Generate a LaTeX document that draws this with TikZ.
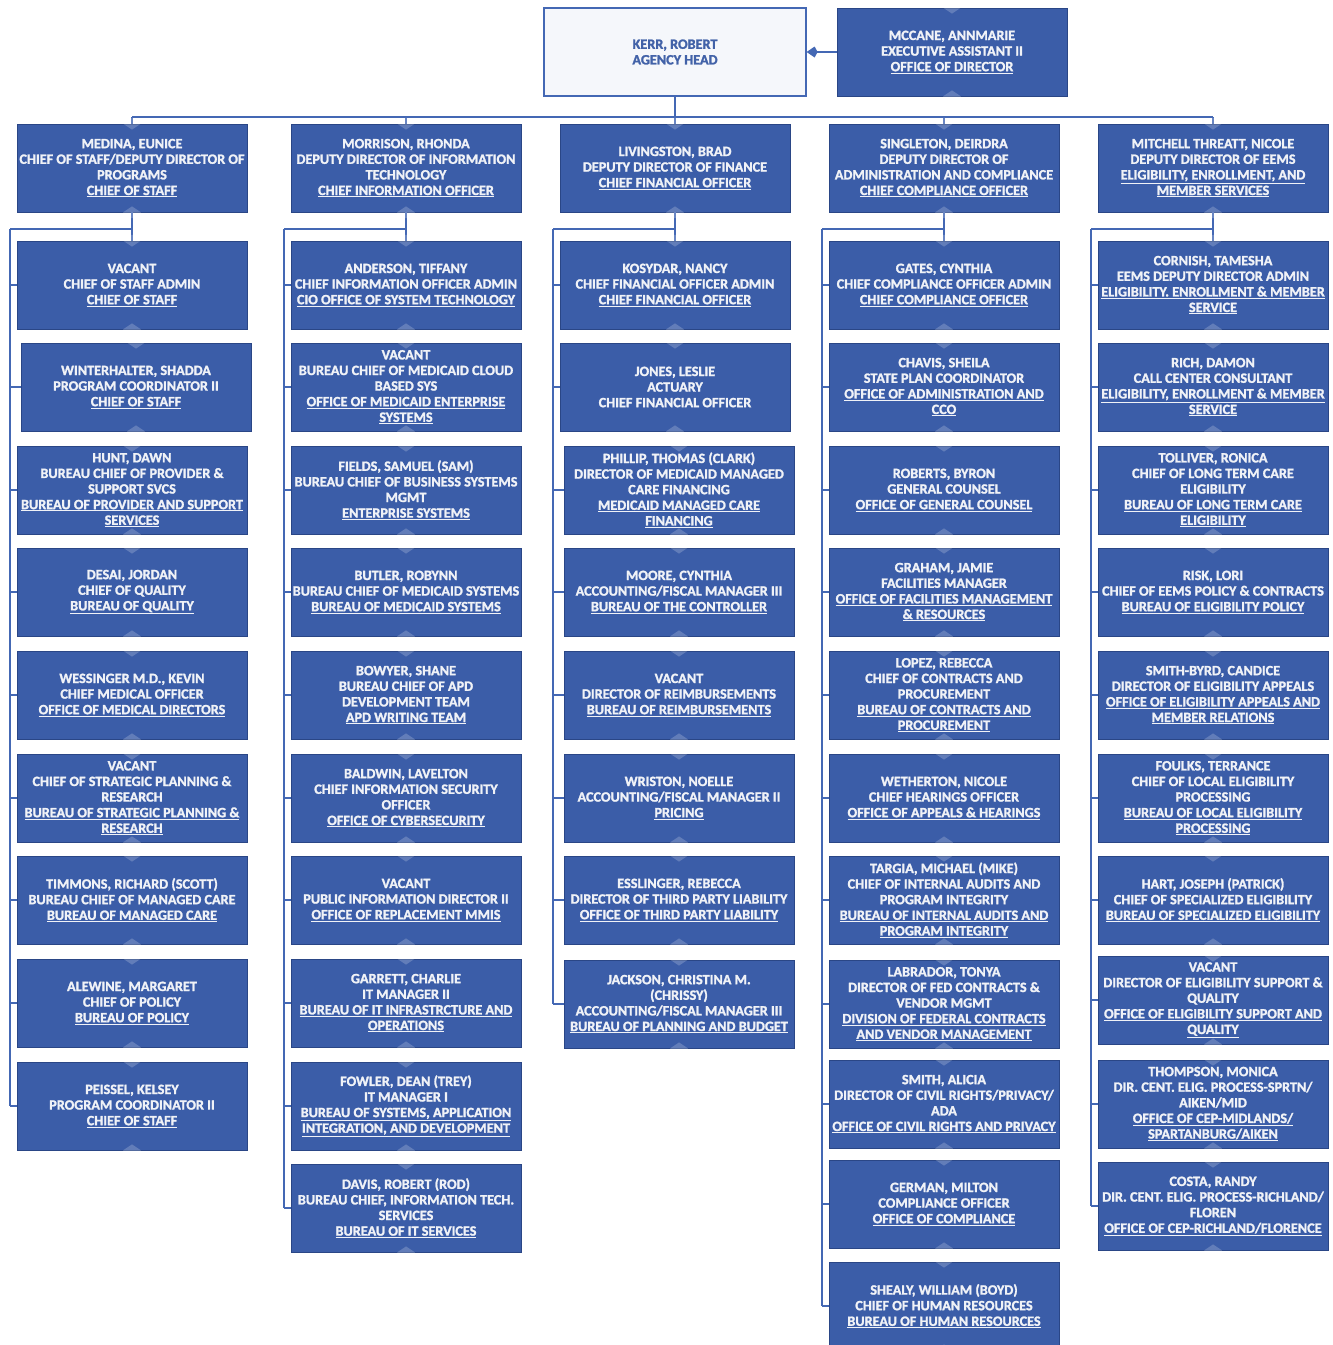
\documentclass[tikz,border=0pt]{standalone}
\usepackage{fontspec}
\setmainfont{Carlito}[BoldFont={Carlito Bold}]
\newfontfamily\orgface{Carlito Bold}[FakeBold=1.6]
\usepackage{tikz}
\usetikzlibrary{arrows.meta, positioning}

\definecolor{orgblue}{RGB}{59,93,168}
\definecolor{orgedge}{RGB}{42,70,134}
\definecolor{linkblue}{RGB}{68,104,180}
\definecolor{agencyfill}{RGB}{245,247,251}
\definecolor{agencytext}{RGB}{66,98,168}
\definecolor{boxtext}{RGB}{240,242,247}

\newcommand{\orgfont}{\orgface\fontsize{14.2}{15.6}\selectfont}
\newcommand{\ulin}[1]{\underline{#1}}
\newcommand{\notchat}[1]{\fill[notch] (#1) ++(-9,0) -- ++(9,-6) -- ++(9,6) -- ++(-9,6) -- cycle;}

\begin{document}
\begin{tikzpicture}[
        x=1pt, y=-1pt,
        staffbox/.style={rectangle, draw=orgedge, line width=0.8pt, fill=orgblue, text=boxtext,
                         minimum width=230pt, minimum height=88pt, align=center, inner sep=1pt},
        agencybox/.style={rectangle, draw=linkblue, line width=1.2pt, fill=agencyfill, text=agencytext,
                         minimum width=262pt, minimum height=88pt, align=center},
        link/.style={draw=linkblue, line width=2.6pt},
        notch/.style={fill=white, fill opacity=0.2}]
    \tikzstyle{every node}=[font=\orgfont]
    \useasboundingbox (0,0) rectangle (1333,1345);
    \clip (0,0) rectangle (1333,1345);

    % top
    \node[agencybox] (kerr) at (675,52) {KERR, ROBERT\\AGENCY HEAD};
    \node[staffbox] (mccane) at (952,52) {MCCANE, ANNMARIE\\EXECUTIVE ASSISTANT II\\\ulin{OFFICE OF DIRECTOR}};

    % deputies
    \node[staffbox] (medina) at (132,168) {MEDINA, EUNICE\\CHIEF OF STAFF/DEPUTY DIRECTOR OF\\PROGRAMS\\\ulin{CHIEF OF STAFF}};
    \node[staffbox] (morrison) at (406,168) {MORRISON, RHONDA\\DEPUTY DIRECTOR OF INFORMATION\\TECHNOLOGY\\\ulin{CHIEF INFORMATION OFFICER}};
    \node[staffbox] (livingston) at (675,168) {LIVINGSTON, BRAD\\DEPUTY DIRECTOR OF FINANCE\\\ulin{CHIEF FINANCIAL OFFICER}};
    \node[staffbox] (singleton) at (944,168) {SINGLETON, DEIRDRA\\DEPUTY DIRECTOR OF\\ADMINISTRATION AND COMPLIANCE\\\ulin{CHIEF COMPLIANCE OFFICER}};
    \node[staffbox] (mitchell) at (1213,168) {MITCHELL THREATT, NICOLE\\DEPUTY DIRECTOR OF EEMS\\\ulin{ELIGIBILITY, ENROLLMENT, AND}\\\ulin{MEMBER SERVICES}};

    % chief of staff
    \node[staffbox] (vacantcos) at (132,285) {VACANT\\CHIEF OF STAFF ADMIN\\\ulin{CHIEF OF STAFF}};
    \node[staffbox] (winterhalter) at (136,387) {WINTERHALTER, SHADDA\\PROGRAM COORDINATOR II\\\ulin{CHIEF OF STAFF}};
    \node[staffbox] (hunt) at (132,490) {HUNT, DAWN\\BUREAU CHIEF OF PROVIDER \&\\SUPPORT SVCS\\\ulin{BUREAU OF PROVIDER AND SUPPORT}\\\ulin{SERVICES}};
    \node[staffbox] (desai) at (132,592) {DESAI, JORDAN\\CHIEF OF QUALITY\\\ulin{BUREAU OF QUALITY}};
    \node[staffbox] (wessinger) at (132,695) {WESSINGER M.D., KEVIN\\CHIEF MEDICAL OFFICER\\\ulin{OFFICE OF MEDICAL DIRECTORS}};
    \node[staffbox] (vacantspr) at (132,798) {VACANT\\CHIEF OF STRATEGIC PLANNING \&\\RESEARCH\\\ulin{BUREAU OF STRATEGIC PLANNING \&}\\\ulin{RESEARCH}};
    \node[staffbox] (timmons) at (132,900) {TIMMONS, RICHARD (SCOTT)\\BUREAU CHIEF OF MANAGED CARE\\\ulin{BUREAU OF MANAGED CARE}};
    \node[staffbox] (alewine) at (132,1003) {ALEWINE, MARGARET\\CHIEF OF POLICY\\\ulin{BUREAU OF POLICY}};
    \node[staffbox] (peissel) at (132,1106) {PEISSEL, KELSEY\\PROGRAM COORDINATOR II\\\ulin{CHIEF OF STAFF}};

    % information technology
    \node[staffbox] (anderson) at (406,285) {ANDERSON, TIFFANY\\CHIEF INFORMATION OFFICER ADMIN\\\ulin{CIO OFFICE OF SYSTEM TECHNOLOGY}};
    \node[staffbox] (vacantmes) at (406,387) {VACANT\\BUREAU CHIEF OF MEDICAID CLOUD\\BASED SYS\\\ulin{OFFICE OF MEDICAID ENTERPRISE}\\\ulin{SYSTEMS}};
    \node[staffbox] (fields) at (406,490) {FIELDS, SAMUEL (SAM)\\BUREAU CHIEF OF BUSINESS SYSTEMS\\MGMT\\\ulin{ENTERPRISE SYSTEMS}};
    \node[staffbox] (butler) at (406,592) {BUTLER, ROBYNN\\BUREAU CHIEF OF MEDICAID SYSTEMS\\\ulin{BUREAU OF MEDICAID SYSTEMS}};
    \node[staffbox] (bowyer) at (406,695) {BOWYER, SHANE\\BUREAU CHIEF OF APD\\DEVELOPMENT TEAM\\\ulin{APD WRITING TEAM}};
    \node[staffbox] (baldwin) at (406,798) {BALDWIN, LAVELTON\\CHIEF INFORMATION SECURITY\\OFFICER\\\ulin{OFFICE OF CYBERSECURITY}};
    \node[staffbox] (vacantmmis) at (406,900) {VACANT\\PUBLIC INFORMATION DIRECTOR II\\\ulin{OFFICE OF REPLACEMENT MMIS}};
    \node[staffbox] (garrett) at (406,1003) {GARRETT, CHARLIE\\IT MANAGER II\\\ulin{BUREAU OF IT INFRASTRCTURE AND}\\\ulin{OPERATIONS}};
    \node[staffbox] (fowler) at (406,1106) {FOWLER, DEAN (TREY)\\IT MANAGER I\\\ulin{BUREAU OF SYSTEMS, APPLICATION}\\\ulin{INTEGRATION, AND DEVELOPMENT}};
    \node[staffbox] (davis) at (406,1208) {DAVIS, ROBERT (ROD)\\BUREAU CHIEF, INFORMATION TECH.\\SERVICES\\\ulin{BUREAU OF IT SERVICES}};

    % finance
    \node[staffbox] (kosydar) at (675,285) {KOSYDAR, NANCY\\CHIEF FINANCIAL OFFICER ADMIN\\\ulin{CHIEF FINANCIAL OFFICER}};
    \node[staffbox] (jones) at (675,387) {JONES, LESLIE\\ACTUARY\\CHIEF FINANCIAL OFFICER};
    \node[staffbox] (phillip) at (679,490) {PHILLIP, THOMAS (CLARK)\\DIRECTOR OF MEDICAID MANAGED\\CARE FINANCING\\\ulin{MEDICAID MANAGED CARE}\\\ulin{FINANCING}};
    \node[staffbox] (moore) at (679,592) {MOORE, CYNTHIA\\ACCOUNTING/FISCAL MANAGER III\\\ulin{BUREAU OF THE CONTROLLER}};
    \node[staffbox] (vacantreimb) at (679,695) {VACANT\\DIRECTOR OF REIMBURSEMENTS\\\ulin{BUREAU OF REIMBURSEMENTS}};
    \node[staffbox] (wriston) at (679,798) {WRISTON, NOELLE\\ACCOUNTING/FISCAL MANAGER II\\\ulin{PRICING}};
    \node[staffbox] (esslinger) at (679,900) {ESSLINGER, REBECCA\\DIRECTOR OF THIRD PARTY LIABILITY\\\ulin{OFFICE OF THIRD PARTY LIABILITY}};
    \node[staffbox] (jackson) at (679,1004) {JACKSON, CHRISTINA M.\\(CHRISSY)\\ACCOUNTING/FISCAL MANAGER III\\\ulin{BUREAU OF PLANNING AND BUDGET}};

    % administration and compliance
    \node[staffbox] (gates) at (944,285) {GATES, CYNTHIA\\CHIEF COMPLIANCE OFFICER ADMIN\\\ulin{CHIEF COMPLIANCE OFFICER}};
    \node[staffbox] (chavis) at (944,387) {CHAVIS, SHEILA\\STATE PLAN COORDINATOR\\\ulin{OFFICE OF ADMINISTRATION AND}\\\ulin{CCO}};
    \node[staffbox] (roberts) at (944,490) {ROBERTS, BYRON\\GENERAL COUNSEL\\\ulin{OFFICE OF GENERAL COUNSEL}};
    \node[staffbox] (graham) at (944,592) {GRAHAM, JAMIE\\FACILITIES MANAGER\\\ulin{OFFICE OF FACILITIES MANAGEMENT}\\\ulin{\& RESOURCES}};
    \node[staffbox] (lopez) at (944,695) {LOPEZ, REBECCA\\CHIEF OF CONTRACTS AND\\PROCUREMENT\\\ulin{BUREAU OF CONTRACTS AND}\\\ulin{PROCUREMENT}};
    \node[staffbox] (wetherton) at (944,798) {WETHERTON, NICOLE\\CHIEF HEARINGS OFFICER\\\ulin{OFFICE OF APPEALS \& HEARINGS}};
    \node[staffbox] (targia) at (944,900) {TARGIA, MICHAEL (MIKE)\\CHIEF OF INTERNAL AUDITS AND\\PROGRAM INTEGRITY\\\ulin{BUREAU OF INTERNAL AUDITS AND}\\\ulin{PROGRAM INTEGRITY}};
    \node[staffbox] (labrador) at (944,1004) {LABRADOR, TONYA\\DIRECTOR OF FED CONTRACTS \&\\VENDOR MGMT\\\ulin{DIVISION OF FEDERAL CONTRACTS}\\\ulin{AND VENDOR MANAGEMENT}};
    \node[staffbox] (smitha) at (944,1104) {SMITH, ALICIA\\DIRECTOR OF CIVIL RIGHTS/PRIVACY/\\ADA\\\ulin{OFFICE OF CIVIL RIGHTS AND PRIVACY}};
    \node[staffbox] (german) at (944,1204) {GERMAN, MILTON\\COMPLIANCE OFFICER\\\ulin{OFFICE OF COMPLIANCE}};
    \node[staffbox] (shealy) at (944,1306) {SHEALY, WILLIAM (BOYD)\\CHIEF OF HUMAN RESOURCES\\\ulin{BUREAU OF HUMAN RESOURCES}};

    % eligibility, enrollment and member services
    \node[staffbox] (cornish) at (1213,285) {CORNISH, TAMESHA\\EEMS DEPUTY DIRECTOR ADMIN\\\ulin{ELIGIBILITY. ENROLLMENT \& MEMBER}\\\ulin{SERVICE}};
    \node[staffbox] (rich) at (1213,387) {RICH, DAMON\\CALL CENTER CONSULTANT\\\ulin{ELIGIBILITY, ENROLLMENT \& MEMBER}\\\ulin{SERVICE}};
    \node[staffbox] (tolliver) at (1213,490) {TOLLIVER, RONICA\\CHIEF OF LONG TERM CARE\\ELIGIBILITY\\\ulin{BUREAU OF LONG TERM CARE}\\\ulin{ELIGIBILITY}};
    \node[staffbox] (risk) at (1213,592) {RISK, LORI\\CHIEF OF EEMS POLICY \& CONTRACTS\\\ulin{BUREAU OF ELIGIBILITY POLICY}};
    \node[staffbox] (smithbyrd) at (1213,695) {SMITH-BYRD, CANDICE\\DIRECTOR OF ELIGIBILITY APPEALS\\\ulin{OFFICE OF ELIGIBILITY APPEALS AND}\\\ulin{MEMBER RELATIONS}};
    \node[staffbox] (foulks) at (1213,798) {FOULKS, TERRANCE\\CHIEF OF LOCAL ELIGIBILITY\\PROCESSING\\\ulin{BUREAU OF LOCAL ELIGIBILITY}\\\ulin{PROCESSING}};
    \node[staffbox] (hart) at (1213,900) {HART, JOSEPH (PATRICK)\\CHIEF OF SPECIALIZED ELIGIBILITY\\\ulin{BUREAU OF SPECIALIZED ELIGIBILITY}};
    \node[staffbox] (vacantesq) at (1213,1000) {VACANT\\DIRECTOR OF ELIGIBILITY SUPPORT \&\\QUALITY\\\ulin{OFFICE OF ELIGIBILITY SUPPORT AND}\\\ulin{QUALITY}};
    \node[staffbox] (thompson) at (1213,1104) {THOMPSON, MONICA\\DIR. CENT. ELIG. PROCESS-SPRTN/\\AIKEN/MID\\\ulin{OFFICE OF CEP-MIDLANDS/}\\\ulin{SPARTANBURG/AIKEN}};
    \node[staffbox] (costa) at (1213,1206) {COSTA, RANDY\\DIR. CENT. ELIG. PROCESS-RICHLAND/\\FLOREN\\\ulin{OFFICE OF CEP-RICHLAND/FLORENCE}};

    % connectors
    \draw[link, -{Kite[length=11pt,width=11pt,inset=3pt]}] (mccane.west) -- (kerr.east);
    \coordinate (bus) at (675,117);
    \draw[link] (kerr.south) -- (bus);
    \draw[link] (bus -| medina.north) -- (bus -| mitchell.north);
    \foreach \h in {medina,morrison,livingston,singleton,mitchell}
        \draw[link] (bus -| \h.north) -- (\h.north);

    \coordinate (railA) at (10,229);
    \coordinate (railB) at (284,229);
    \coordinate (railC) at (553,229);
    \coordinate (railD) at (822,229);
    \coordinate (railE) at (1091,229);

    \draw[link] (medina.south) -- (vacantcos.north);
    \draw[link] (railA) -- (railA -| medina.south);
    \draw[link] (railA) -- (railA |- peissel.west);
    \foreach \n in {vacantcos,winterhalter,hunt,desai,wessinger,vacantspr,timmons,alewine,peissel}
        \draw[link] (railA |- \n.west) -- (\n.west);

    \draw[link] (morrison.south) -- (anderson.north);
    \draw[link] (railB) -- (railB -| morrison.south);
    \draw[link] (railB) -- (railB |- davis.west);
    \foreach \n in {anderson,vacantmes,fields,butler,bowyer,baldwin,vacantmmis,garrett,fowler,davis}
        \draw[link] (railB |- \n.west) -- (\n.west);

    \draw[link] (livingston.south) -- (kosydar.north);
    \draw[link] (railC) -- (railC -| livingston.south);
    \draw[link] (railC) -- (railC |- jackson.west);
    \foreach \n in {kosydar,jones,phillip,moore,vacantreimb,wriston,esslinger,jackson}
        \draw[link] (railC |- \n.west) -- (\n.west);

    \draw[link] (singleton.south) -- (gates.north);
    \draw[link] (railD) -- (railD -| singleton.south);
    \draw[link] (railD) -- (railD |- shealy.west);
    \foreach \n in {gates,chavis,roberts,graham,lopez,wetherton,targia,labrador,smitha,german,shealy}
        \draw[link] (railD |- \n.west) -- (\n.west);

    \draw[link] (mitchell.south) -- (cornish.north);
    \draw[link] (railE) -- (railE -| mitchell.south);
    \draw[link] (railE) -- (railE |- costa.west);
    \foreach \n in {cornish,rich,tolliver,risk,smithbyrd,foulks,hart,vacantesq,thompson,costa}
        \draw[link] (railE |- \n.west) -- (\n.west);

    % little diamonds on box edges
    \foreach \n in {mccane,medina,morrison,livingston,singleton,mitchell,
                    vacantcos,winterhalter,hunt,desai,wessinger,vacantspr,timmons,alewine,peissel,
                    anderson,vacantmes,fields,butler,bowyer,baldwin,vacantmmis,garrett,fowler,davis,
                    kosydar,jones,phillip,moore,vacantreimb,wriston,esslinger,jackson,
                    gates,chavis,roberts,graham,lopez,wetherton,targia,labrador,smitha,german,shealy,
                    cornish,rich,tolliver,risk,smithbyrd,foulks,hart,vacantesq,thompson,costa}{
        \notchat{\n.north}
        \notchat{\n.south}
    }
\end{tikzpicture}
\end{document}
